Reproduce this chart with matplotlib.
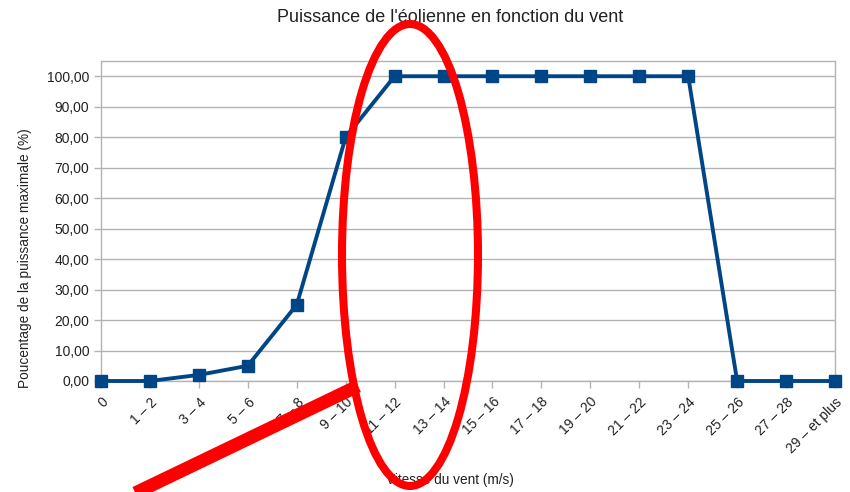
import matplotlib.pyplot as plt
from matplotlib.patches import Ellipse
from matplotlib.lines import Line2D

plt.rcParams['font.family'] = ['Liberation Sans', 'DejaVu Sans']

vitesses = ['0', '1 – 2', '3 – 4', '5 – 6', '7 – 8', '9 – 10', '11 – 12', '13 – 14',
            '15 – 16', '17 – 18', '19 – 20', '21 – 22', '23 – 24', '25 – 26',
            '27 – 28', '29 – et plus']
puissance = [0, 0, 2, 5, 25, 80, 100, 100, 100, 100, 100, 100, 100, 0, 0, 0]
y_ticks = list(range(0, 101, 10))

W, H = 850, 492
fig = plt.figure(figsize=(W / 100, H / 100), dpi=100)
ax = fig.add_axes([101 / W, (H - 381) / H, (835 - 101) / W, (381 - 61) / H])

x = range(len(vitesses))
ax.plot(x, puissance, color='#004586', lw=2.8, marker='s', ms=8, zorder=3, clip_on=False)

ax.set_xlim(0, len(vitesses) - 1)
ax.set_ylim(0, 105)
ax.set_yticks(y_ticks)
ax.set_yticklabels(['{:.2f}'.format(v).replace('.', ',') for v in y_ticks], fontsize=10, color='#222222')
ax.set_xticks(list(x))
ax.set_xticklabels(vitesses, rotation=45, ha='right', va='top', rotation_mode='anchor',
                   fontsize=10, color='#222222')
ax.tick_params(axis='both', color='#b3b3b3', length=5, width=1)
ax.tick_params(axis='x', pad=5)
ax.grid(axis='y', color='#b3b3b3', lw=1)
ax.set_axisbelow(True)
for s in ax.spines.values():
    s.set_color('#b3b3b3')
    s.set_linewidth(1)

fig.text(450 / W, 1 - 17 / H, "Puissance de l'éolienne en fonction du vent",
         ha='center', va='center', fontsize=13, color='#222222')
fig.text(25 / W, 1 - 258 / H, 'Poucentage de la puissance maximale (%)',
         rotation=90, ha='center', va='center', fontsize=9.8, color='#222222')
fig.text(450 / W, 1 - 480 / H, 'Vitesse du vent (m/s)',
         ha='center', va='center', fontsize=9.8, color='#222222')

# surlignage rouge
ell = Ellipse((410 / W, 1 - 255 / H), 136 / W, 462 / H, transform=fig.transFigure,
              fill=False, edgecolor='#ff0000', lw=5.8, zorder=10)
fig.add_artist(ell)
fleche = Line2D([100 / W, 358 / W], [1 - 510 / H, 1 - 386 / H], transform=fig.transFigure,
                color='#ff0000', lw=9.5, solid_capstyle='butt', zorder=10)
fig.add_artist(fleche)

fig.savefig('out.png', dpi=100)
